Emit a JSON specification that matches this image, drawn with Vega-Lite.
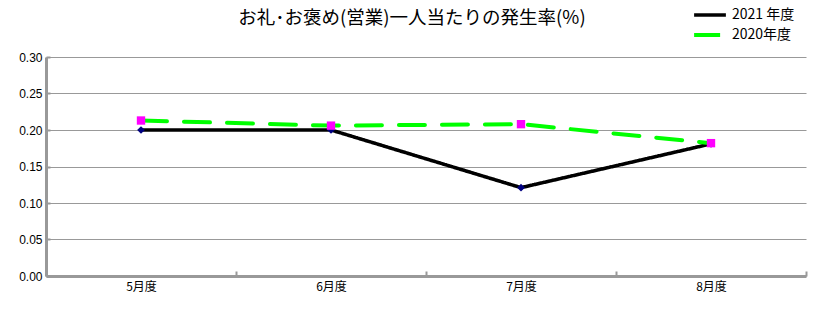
{
  "$schema": "https://vega.github.io/schema/vega-lite/v6.json",
  "width": 760,
  "height": 219,
  "autosize": "none",
  "padding": {"left": 46, "top": 57, "right": 22, "bottom": 34},
  "background": "white",
  "config": {
    "view": {"stroke": null},
    "font": "Noto Sans CJK JP"
  },
  "title": {
    "text": "お礼･お褒め(営業)一人当たりの発生率(%)",
    "fontSize": 18.5,
    "fontWeight": "normal",
    "font": "Noto Sans CJK JP",
    "color": "#000000",
    "anchor": "middle",
    "dx": -14,
    "offset": -25
  },
  "data": {
    "values": [
      {"month": "5月度", "series": "2021 年度", "value": 0.200},
      {"month": "6月度", "series": "2021 年度", "value": 0.200},
      {"month": "7月度", "series": "2021 年度", "value": 0.121},
      {"month": "8月度", "series": "2021 年度", "value": 0.181},
      {"month": "5月度", "series": "2020年度", "value": 0.213},
      {"month": "6月度", "series": "2020年度", "value": 0.206},
      {"month": "7月度", "series": "2020年度", "value": 0.208},
      {"month": "8月度", "series": "2020年度", "value": 0.182}
    ]
  },
  "encoding": {
    "x": {
      "field": "month", "type": "nominal", "sort": null,
      "scale": {"paddingInner": 0, "paddingOuter": 0},
      "axis": {
        "title": null, "labelAngle": 0, "labelFontSize": 12, "labelColor": "#000000",
        "labelFont": "Noto Sans CJK JP",
        "domainColor": "#999999", "domainWidth": 3,
        "tickColor": "#999999", "tickWidth": 2, "tickSize": -5, "tickBand": "extent",
        "labelPadding": 10, "grid": false
      }
    },
    "y": {
      "field": "value", "type": "quantitative",
      "scale": {"domain": [0, 0.3]},
      "axis": {
        "title": null, "values": [0, 0.05, 0.1, 0.15, 0.2, 0.25, 0.3], "format": ".2f",
        "labelFontSize": 12, "labelColor": "#000000", "labelFont": "Liberation Sans",
        "domainColor": "#999999", "domainWidth": 3,
        "tickColor": "#999999", "tickWidth": 2, "tickSize": -4,
        "labelPadding": 8,
        "grid": true, "gridColor": "#999999", "gridWidth": 1
      }
    }
  },
  "layer": [
    {
      "mark": {"type": "line", "strokeCap": "round"},
      "encoding": {
        "color": {
          "field": "series", "type": "nominal",
          "scale": {"domain": ["2021 年度", "2020年度"], "range": ["#000000", "#00FF00"]},
          "legend": {
            "title": null, "orient": "none", "legendX": 651, "legendY": -55,
            "symbolType": "M-1.45,0H1.45", "symbolSize": 480, "symbolStrokeWidth": 4,
            "labelFontSize": 14, "labelFont": "Noto Sans CJK JP", "labelColor": "#000000",
            "rowPadding": 0, "labelOffset": 9
          }
        },
        "strokeDash": {
          "field": "series", "type": "nominal",
          "scale": {"domain": ["2021 年度", "2020年度"], "range": [[1, 0], [26, 17]]},
          "legend": null
        },
        "strokeWidth": {
          "field": "series", "type": "nominal",
          "scale": {"domain": ["2021 年度", "2020年度"], "range": [3.5, 4]},
          "legend": null
        }
      }
    },
    {
      "mark": {"type": "point", "filled": true, "opacity": 1},
      "encoding": {
        "shape": {"condition": {"test": "datum.series === '2021 年度'", "value": "diamond"}, "value": "square"},
        "fill": {"condition": {"test": "datum.series === '2021 年度'", "value": "#000080"}, "value": "#FF00FF"},
        "size": {"condition": {"test": "datum.series === '2021 年度'", "value": 60}, "value": 70}
      }
    }
  ]
}
